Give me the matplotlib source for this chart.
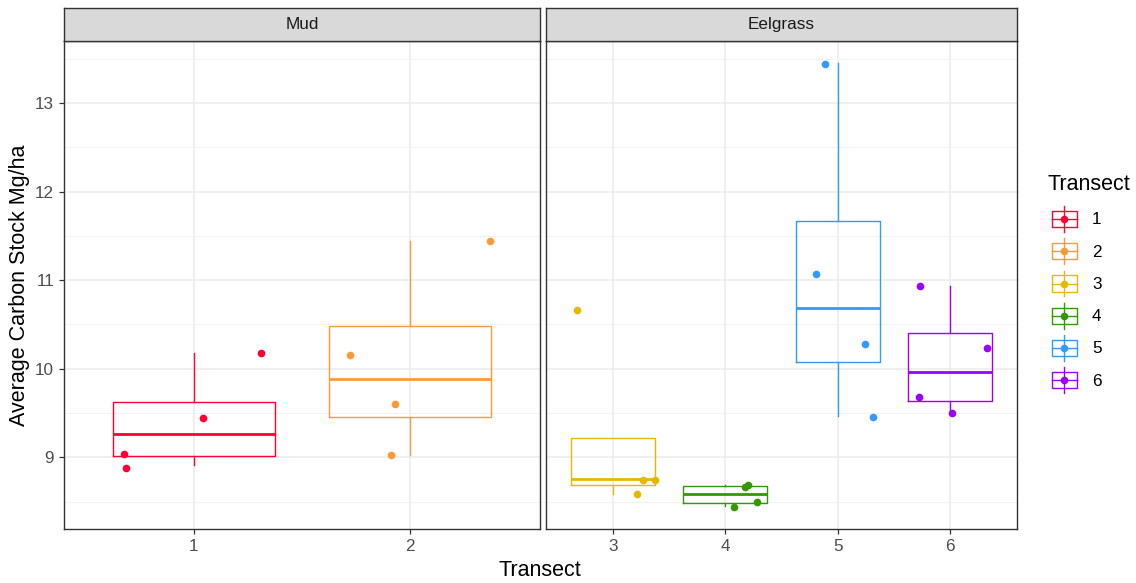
#carbon stock by transect, mud vs eelgrass
#boxplots + jittered points, two facets

import matplotlib.pyplot as plt
from matplotlib.lines import Line2D
from matplotlib.patches import Rectangle
from matplotlib.legend_handler import HandlerBase
from matplotlib.ticker import MultipleLocator

plt.rcParams['font.family'] = ['Liberation Sans', 'DejaVu Sans']

#data
transects = [1, 2, 3, 4, 5, 6]
colors = ["#FF0033", "#FF9933", "#E6B800", "#339900", "#3399FF", "#9900FF"]

#box stats
q1 = [9.01, 9.46, 8.69, 8.48, 10.08, 9.64]
med = [9.26, 9.88, 8.75, 8.58, 10.68, 9.96]
q3 = [9.62, 10.48, 9.22, 8.67, 11.67, 10.40]
whislo = [8.91, 9.03, 8.59, 8.45, 9.47, 9.53]
whishi = [10.18, 11.44, 9.22, 8.69, 13.45, 10.93]

#jittered points (x already includes jitter)
pts_x = [[0.685, 0.677, 1.041, 1.312],
         [1.721, 1.931, 1.913, 2.369],
         [2.672, 3.264, 3.375, 3.213],
         [4.171, 4.201, 4.077, 4.278],
         [4.885, 4.811, 5.248, 5.313],
         [5.734, 6.335, 5.722, 6.024]]
pts_y = [[8.88, 9.04, 9.44, 10.18],
         [10.16, 9.60, 9.03, 11.44],
         [10.66, 8.74, 8.74, 8.58],
         [8.66, 8.69, 8.44, 8.50],
         [13.44, 11.07, 10.28, 9.46],
         [10.93, 10.23, 9.68, 9.50]]

facets = [("Mud", [0, 1]), ("Eelgrass", [2, 3, 4, 5])]

W, H = 1136, 583
fig = plt.figure(figsize=(W / 100, H / 100), dpi=100)

small = 12.3   # tick / strip / legend labels
big = 15.5     # axis + legend titles

panels = [(64, 540), (546, 1017)]
top, bot = 41, 529
ylim = (8.19, 13.70)

for (name, idx), (x0, x1) in zip(facets, panels):
    ax = fig.add_axes([x0 / W, 1 - bot / H, (x1 - x0) / W, (bot - top) / H])
    ax.set_ylim(*ylim)
    pos = [transects[i] for i in idx]
    ax.set_xlim(pos[0] - 0.6, pos[-1] + 0.6)

    # grid
    ax.yaxis.set_major_locator(MultipleLocator(1))
    ax.yaxis.set_minor_locator(MultipleLocator(0.5))
    ax.set_xticks(pos)
    ax.set_xticklabels([str(p) for p in pos])
    ax.grid(which="major", color="#EBEBEB", lw=1.1)
    ax.grid(which="minor", axis="y", color="#F2F2F2", lw=0.8)
    ax.set_axisbelow(True)

    for i in idx:
        c = colors[i]
        st = [dict(med=med[i], q1=q1[i], q3=q3[i], whislo=whislo[i],
                   whishi=whishi[i], fliers=[])]
        ax.bxp(st, positions=[transects[i]], widths=0.75, showcaps=False,
               showfliers=False, manage_ticks=False,
               boxprops=dict(color=c, lw=1.0),
               whiskerprops=dict(color=c, lw=1.0),
               medianprops=dict(color=c, lw=2.0))
        ax.plot(pts_x[i], pts_y[i], "o", color=c, ms=5.5, mec="none", zorder=3)

    for s in ax.spines.values():
        s.set_color("#333333")
        s.set_linewidth(1.0)
    ax.tick_params(axis="both", which="major", length=3.6, color="#333333",
                   labelcolor="#4D4D4D", labelsize=small, width=0.9, pad=3.5)
    ax.tick_params(axis="y", which="minor", length=0)
    if x0 != 64:
        ax.tick_params(axis="y", which="both", left=False, labelleft=False)

    # strip
    sax = fig.add_axes([x0 / W, 1 - top / H, (x1 - x0) / W, 33 / H])
    sax.set_facecolor("#D9D9D9")
    sax.set_xticks([])
    sax.set_yticks([])
    for s in sax.spines.values():
        s.set_color("#333333")
        s.set_linewidth(1.0)
    sax.text(0.5, 0.5, name, ha="center", va="center", fontsize=small,
             color="#1A1A1A", transform=sax.transAxes)

fig.text(540 / W, 1 - 571 / H, "Transect", ha="center", va="center",
         fontsize=big)
fig.text(20 / W, 1 - 285 / H, "Average Carbon Stock Mg/ha", ha="center",
         va="center", rotation=90, fontsize=big)


# legend key that looks like a little boxplot with a dot
class BoxKey(HandlerBase):
    def create_artists(self, legend, orig, xd, yd, w, h, fs, trans):
        c = orig.get_color()
        cx = w / 2 - xd
        cy = h / 2 - yd
        bw, bh = w, h * 0.62
        box = Rectangle((cx - bw / 2, cy - bh / 2), bw, bh, fill=False,
                        ec=c, lw=1.0, transform=trans)
        wl = Line2D([cx, cx], [cy - h / 2, cy + h / 2], color=c, lw=1.0,
                    transform=trans)
        ml = Line2D([cx - bw / 2, cx + bw / 2], [cy, cy], color=c, lw=1.0,
                    transform=trans)
        dot = Line2D([cx], [cy], marker="o", ms=5.5, color=c, mec="none",
                     transform=trans)
        return [wl, box, ml, dot]


fig.text(1047 / W, 1 - 185 / H, "Transect", ha="left", va="center",
         fontsize=big)
handles = [Line2D([], [], color=c) for c in colors]
leg = fig.legend(handles, [str(t) for t in transects], loc="upper left",
                 bbox_to_anchor=(1052 / W, 1 - 206 / H), frameon=False,
                 fontsize=small, borderpad=0, borderaxespad=0,
                 handler_map={Line2D: BoxKey()}, handlelength=1.46,
                 handleheight=1.96, labelspacing=0.37, handletextpad=0.88)

plt.savefig("out.png", dpi=100)
